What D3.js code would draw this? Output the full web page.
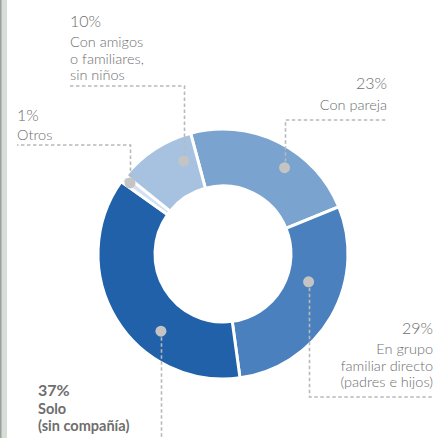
<!DOCTYPE html>
<html>
<head>
<meta charset="utf-8">
<script src="https://cdn.jsdelivr.net/npm/d3@7"></script>
<style>
  html, body { margin: 0; padding: 0; background: #fff; }
  svg { display: block; }
  text { font-family: Lato, "Noto Sans", sans-serif; fill: #6e6e6e; }
</style>
</head>
<body>
<svg id="chart" width="436" height="438"></svg>
<script>
// Who people travel with (share of respondents, %)
const categories = ["Con pareja", "En grupo familiar directo", "Solo", "Otros", "Con amigos o familiares"];
const values = [23, 29, 37, 1, 10];
const valueLabels = ["23%", "29%", "37%", "1%", "10%"];
const labelLines = [
  ["Con pareja"],
  ["En grupo", "familiar directo", "(padres e hijos)"],
  ["Solo", "(sin compañía)"],
  ["Otros"],
  ["Con amigos", "o familiares,", "sin niños"]
];
const colors = ["#7aa3cf", "#4b80be", "#2161a9", "#d4e1f1", "#a7c2e0"];

// Callout layout: where each label sits and where its leader dot sits on the ring
const callouts = [
  { frac: 0.61, r: 106, x: 387, anchor: "end",   pctY: 89,  lineY: 110, elbowY: 120, bold: false },
  { frac: 0.385, r: 90, x: 433, anchor: "end",   pctY: 334, lineY: 354, elbowY: 397, bold: false },
  { frac: 0.35, r: 99,  x: 38,  anchor: "start", pctY: 396, lineY: 414, elbowY: 438, bold: true, noHLine: true },
  { frac: 0.55, r: 117, x: 17,  anchor: "start", pctY: 121, lineY: 140, elbowY: 145, bold: false },
  { frac: 0.78, r: 101, x: 70,  anchor: "start", pctY: 27,  lineY: 47,  elbowY: 86,  bold: false }
];

const svg = d3.select("#chart");
const cx = 223, cy = 254, outerR = 125, innerR = 68;
const rot = -15 * Math.PI / 180;

// page edge strip
svg.append("rect").attr("x", 0).attr("y", 0).attr("width", 7).attr("height", 438).attr("fill", "#d9ddd8");
svg.append("rect").attr("x", 0).attr("y", 0).attr("width", 1.5).attr("height", 438).attr("fill", "#9aa09a");

const pie = d3.pie().sort(null).value(d => d).startAngle(rot).endAngle(rot + 2 * Math.PI);
const arcs = pie(values);
const arc = d3.arc().innerRadius(innerR).outerRadius(outerR);

const g = svg.append("g").attr("transform", `translate(${cx},${cy})`);
g.selectAll("path.slice")
  .data(arcs)
  .join("path")
  .attr("class", "slice")
  .attr("d", arc)
  .attr("fill", (d, i) => colors[i])
  .attr("stroke", "#fff")
  .attr("stroke-width", 3)
  .attr("stroke-linejoin", "miter");

// leader lines and dots
const dash = "3.5,2.5";
arcs.forEach((d, i) => {
  const c = callouts[i];
  const a = d.startAngle + c.frac * (d.endAngle - d.startAngle);
  const px = cx + c.r * Math.sin(a);
  const py = cy - c.r * Math.cos(a);
  const lx = Math.round(px) + 0.5;
  let path = `M${lx},${py} L${lx},${c.elbowY}`;
  if (!c.noHLine) path += ` L${c.x},${c.elbowY}`;
  svg.append("path")
    .attr("d", path)
    .attr("fill", "none")
    .attr("stroke", "#b9b9b9")
    .attr("stroke-width", 1.6)
    .attr("stroke-dasharray", dash);
  svg.append("circle")
    .attr("cx", px).attr("cy", py).attr("r", 5.5)
    .attr("fill", "#c4c4c4");

  const t = svg.append("g").attr("text-anchor", c.anchor)
    .style("font-weight", c.bold ? 700 : 300);
  t.append("text").attr("x", c.x).attr("y", c.pctY)
    .style("font-size", "16px").text(valueLabels[i]);
  labelLines[i].forEach((ln, k) => {
    t.append("text").attr("x", c.x).attr("y", c.lineY + k * 16.5)
      .style("font-size", "14.5px").text(ln);
  });
});
</script>
</body>
</html>
